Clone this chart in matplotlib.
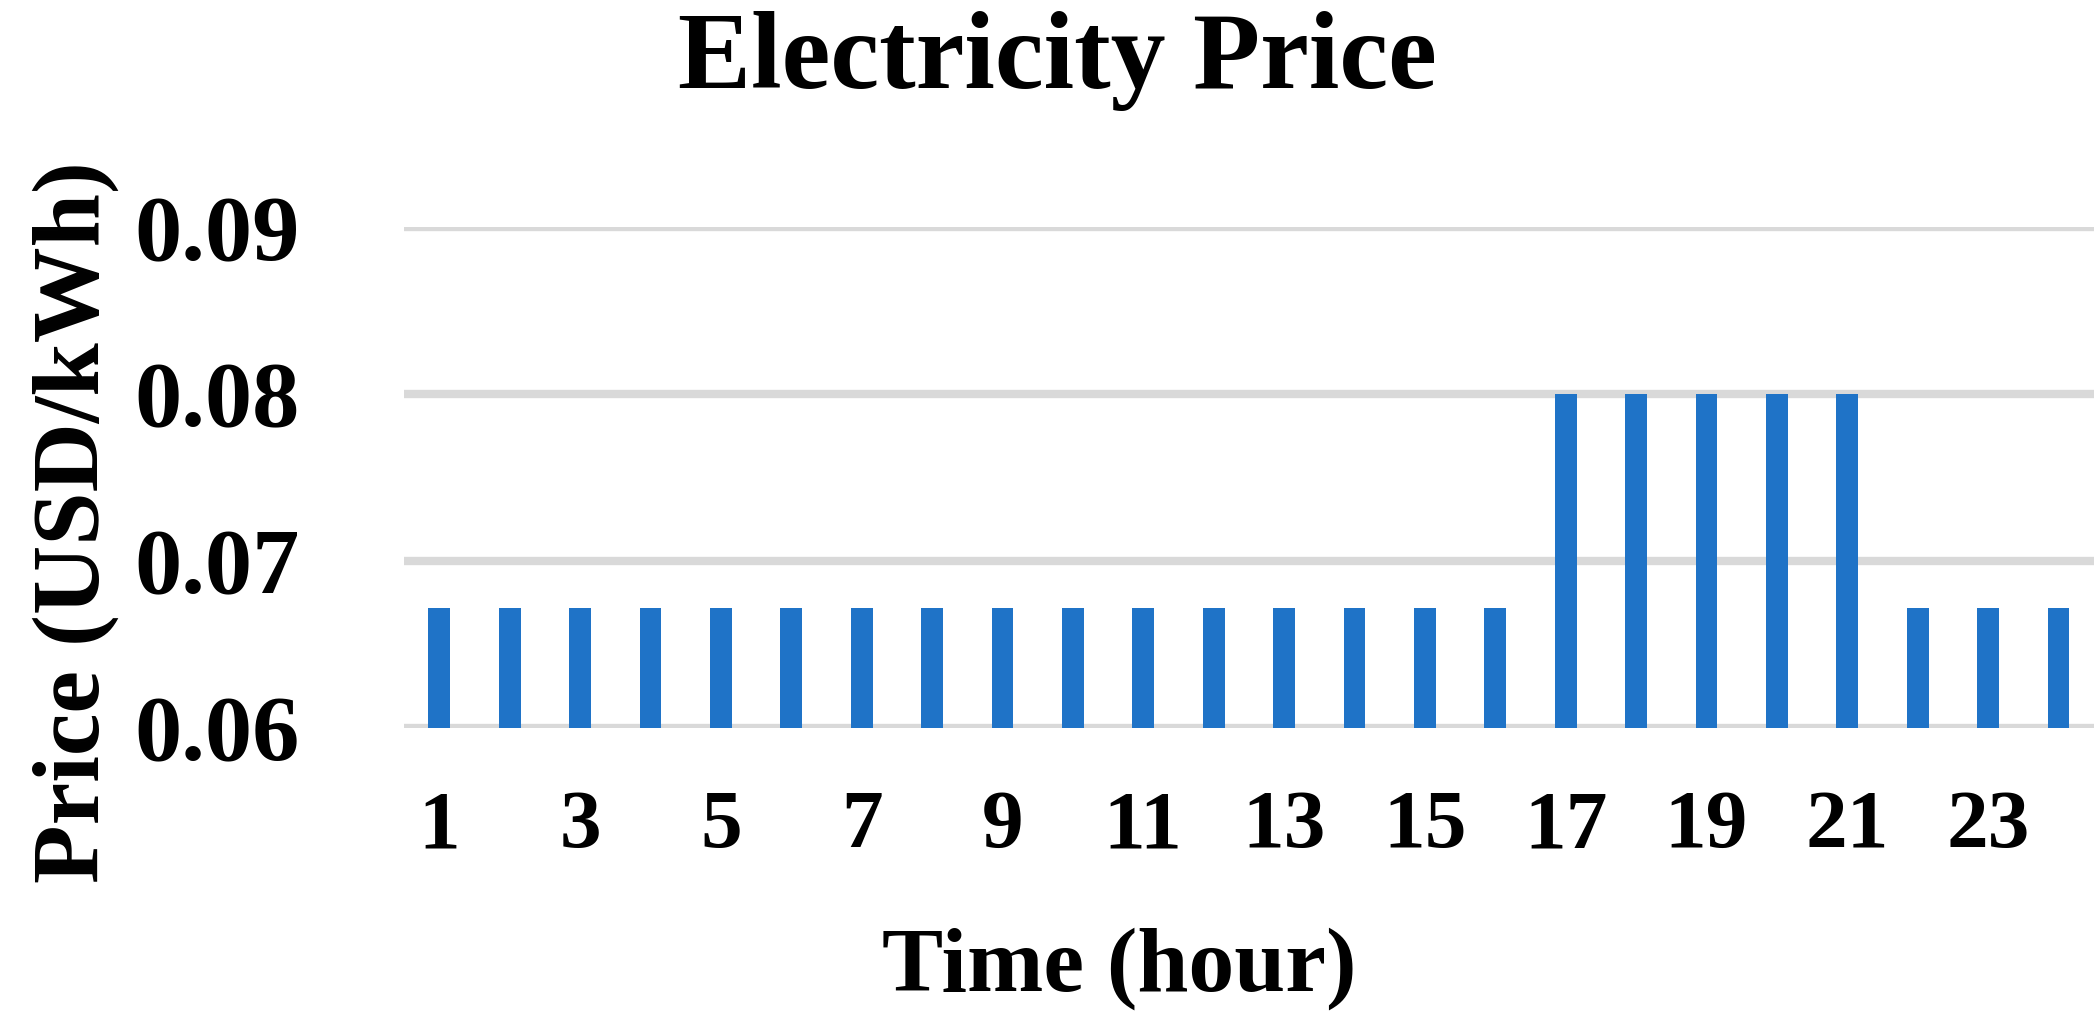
import matplotlib

matplotlib.use("Agg")
import matplotlib.pyplot as plt

hours = list(range(1, 25))
prices = [0.0672] * 16 + [0.080] * 5 + [0.0672] * 3
tick_hours = list(range(1, 24, 2))
y_ticks = [0.06, 0.07, 0.08, 0.09]

plt.rcParams["font.family"] = ["Liberation Serif", "DejaVu Serif"]
plt.rcParams["font.weight"] = "bold"

fig = plt.figure(figsize=(20.99, 10.34), dpi=100)
ax = fig.add_axes([0.1925, 0.296, 0.805, 0.484])

ax.bar(hours, [p - 0.06 for p in prices], bottom=0.06, width=0.31, color="#1f73c7", zorder=3)

ax.set_xlim(0.5, 24.5)
ax.set_ylim(0.06, 0.09)
ax.set_yticks(y_ticks)
ax.set_yticklabels([f"{v:.2f}" for v in y_ticks])
ax.set_xticks(tick_hours)
ax.tick_params(axis="y", labelsize=68, length=0, pad=75)
ax.tick_params(axis="x", labelsize=60, length=0, pad=45)
for lab in ax.get_xticklabels() + ax.get_yticklabels():
    lab.set_fontweight("bold")

ax.grid(True, axis="y", color="#d9d9d9", linewidth=6, zorder=0)
for s in ax.spines.values():
    s.set_visible(False)

fig.text(0.533, 0.063, "Time (hour)", ha="center", va="center", fontsize=66, fontweight="bold")
fig.text(0.036, 0.495, "Price (USD/kWh)", ha="center", va="center", rotation=90,
         fontsize=69, fontweight="bold")
fig.text(0.504, 0.941, "Electricity Price", ha="center", va="center", fontsize=79, fontweight="bold")

fig.savefig("out.png", dpi=100)
